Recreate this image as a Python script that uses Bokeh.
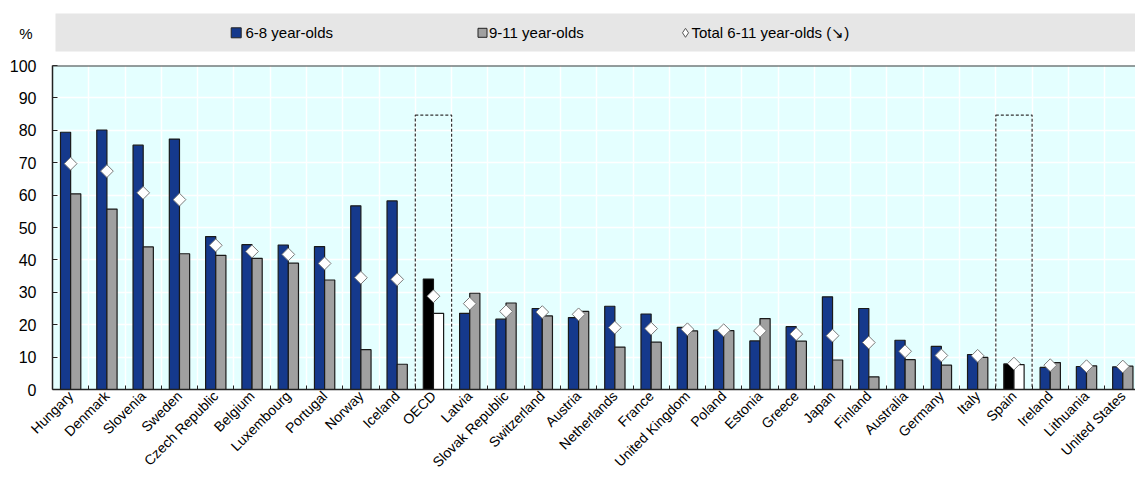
import numpy as np
from bokeh.plotting import figure
from bokeh.models import ColumnDataSource, Range1d, FixedTicker, Span
from bokeh.layouts import column
from bokeh.core.properties import value
from bokeh.embed import file_html
from bokeh.resources import INLINE

countries = ["Hungary", "Denmark", "Slovenia", "Sweden", "Czech Republic", "Belgium",
             "Luxembourg", "Portugal", "Norway", "Iceland", "OECD", "Latvia",
             "Slovak Republic", "Switzerland", "Austria", "Netherlands", "France",
             "United Kingdom", "Poland", "Estonia", "Greece", "Japan", "Finland",
             "Australia", "Germany", "Italy", "Spain", "Ireland", "Lithuania",
             "United States"]
age_6_8 = [79.4, 80.1, 75.4, 77.3, 47.2, 44.7, 44.6, 44.1, 56.7, 58.2, 34.1, 23.5,
           21.7, 25.0, 22.2, 25.7, 23.3, 19.2, 18.3, 15.0, 19.4, 28.6, 25.0, 15.2,
           13.3, 10.8, 7.9, 6.8, 7.1, 7.0]
age_9_11 = [60.4, 55.7, 44.0, 41.9, 41.4, 40.5, 39.0, 33.8, 12.3, 7.8, 23.5, 29.7,
            26.7, 22.7, 24.1, 13.1, 14.6, 18.1, 18.2, 21.9, 14.9, 9.1, 3.9, 9.2,
            7.5, 9.9, 7.7, 8.3, 7.3, 7.2]
total_6_11 = [69.7, 67.4, 60.7, 58.6, 44.5, 42.6, 41.7, 38.9, 34.5, 34.0, 28.8, 26.5,
              24.1, 23.9, 23.2, 19.1, 18.8, 18.6, 18.3, 18.1, 17.1, 16.6, 14.5, 11.8,
              10.5, 10.4, 8.0, 7.5, 7.2, 7.1]
highlighted = ["OECD", "Spain"]
highlight_box_top = 84.7
series_names = ["6-8 year-olds", "9-11 year-olds", "Total 6-11 year-olds (\u2198)"]
unit_label = "%"
y_ticks = list(range(0, 101, 10))

BLUE = "#15398C"
GRAY = "#A0A0A0"
FONT = "Liberation Sans"
W = 1135
LEFT = 52
LEG_H = 57

x = np.arange(len(countries))
col_a = ["black" if c in highlighted else BLUE for c in countries]
col_b = ["white" if c in highlighted else GRAY for c in countries]
src = ColumnDataSource(dict(x=x, xa=x - 0.14, xb=x + 0.14, a=age_6_8, b=age_9_11,
                            t=total_6_11, ca=col_a, cb=col_b))

# ---- legend strip (data coords == page pixels) ----
leg = figure(width=W, height=LEG_H, x_range=Range1d(LEFT, W), y_range=Range1d(LEG_H, 0),
             output_backend="svg", toolbar_location=None,
             min_border_left=LEFT, min_border_right=0, min_border_top=0, min_border_bottom=0,
             x_axis_type=None, outline_line_color=None)
leg.grid.visible = False
leg.quad(left=55, right=W, top=13, bottom=51, fill_color="#E6E6E6", line_color=None)
leg.scatter(x=[235.7, 482], y=[32.3, 32.3], marker="square", size=[10, 9],
            fill_color=[BLUE, GRAY], line_color="#222222", line_width=1)
leg.scatter(x=[685], y=[32.3], marker="diamond", size=9, fill_color="white",
            line_color="#555555", line_width=1)
leg.text(x=[245, 488.5, 691], y=[32.3, 32.3, 32.3], text=series_names,
         text_font=value(FONT), text_font_size="15px", text_baseline="middle",
         text_align="left", text_color="black")
leg.yaxis.ticker = FixedTicker(ticks=[33])
leg.yaxis.major_label_overrides = {33: unit_label}
leg.yaxis.axis_line_color = None
leg.yaxis.major_tick_line_color = None
leg.yaxis.minor_tick_line_color = None
leg.yaxis.major_label_standoff = 14
leg.yaxis.major_label_text_font = FONT
leg.yaxis.major_label_text_font_size = "15px"
leg.yaxis.major_label_text_color = "black"

# ---- main chart ----
p = figure(frame_width=W - LEFT, frame_height=324,
           x_range=Range1d(-0.5, len(countries) - 0.65), y_range=Range1d(0, 100),
           output_backend="svg", toolbar_location=None,
           min_border_left=LEFT, min_border_right=0, min_border_top=65 - LEG_H,
           min_border_bottom=0,
           background_fill_color="#E4FFFF", border_fill_color="white",
           outline_line_color=None)

p.vbar(x="xa", width=0.28, top="a", bottom=0, source=src, fill_color="ca",
       line_color="#1a1a1a", line_width=1.2)
p.vbar(x="xb", width=0.28, top="b", bottom=0, source=src, fill_color="cb",
       line_color="#1a1a1a", line_width=1.2)

hi_idx = [countries.index(c) for c in highlighted]
p.quad(left=[i - 0.5 for i in hi_idx], right=[i + 0.5 for i in hi_idx],
       bottom=0, top=highlight_box_top, fill_color=None, line_color="#333333",
       line_dash="3 2", line_width=1.2)

p.scatter(x="x", y="t", source=src, marker="square", angle=np.pi / 4, size=9,
          fill_color="white", line_color="#7a7a7a", line_width=1)

p.add_layout(Span(location=100, dimension="width", line_color="#3a3a3a", line_width=2))

boundaries = list(x[:-1] + 0.5)

p.xgrid.ticker = FixedTicker(ticks=boundaries)
p.ygrid.ticker = FixedTicker(ticks=y_ticks)
p.grid.grid_line_color = "white"
p.grid.grid_line_width = 1.5

p.yaxis.ticker = FixedTicker(ticks=y_ticks)
p.yaxis.major_tick_in = 5
p.yaxis.major_tick_out = 0
p.yaxis.minor_tick_line_color = None
p.yaxis.axis_line_width = 1.5
p.yaxis.axis_line_color = "#222222"
p.yaxis.major_tick_line_color = "#222222"
p.yaxis.major_label_text_font = FONT
p.yaxis.major_label_text_font_size = "16px"
p.yaxis.major_label_text_color = "black"
p.yaxis.major_label_standoff = 16

p.xaxis.ticker = FixedTicker(ticks=list(x), minor_ticks=boundaries)
p.xaxis.major_label_overrides = {int(i): c for i, c in zip(x, countries)}
p.xaxis.major_tick_in = 0
p.xaxis.major_tick_out = 0
p.xaxis.minor_tick_in = 4
p.xaxis.minor_tick_out = 0
p.xaxis.minor_tick_line_color = "#222222"
p.xaxis.axis_line_width = 1.5
p.xaxis.axis_line_color = "#222222"
p.xaxis.major_label_orientation = np.pi / 4
p.xaxis.major_label_text_font = FONT
p.xaxis.major_label_text_font_size = "14px"
p.xaxis.major_label_text_color = "black"
p.xaxis.major_label_standoff = 4

layout = column(leg, p, spacing=0)
open("out.html", "w").write(file_html(layout, INLINE))
